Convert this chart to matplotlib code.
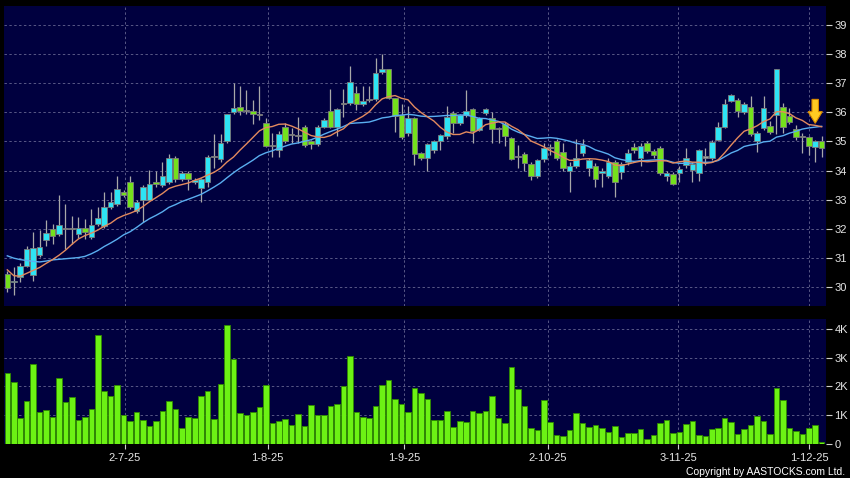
import numpy as np
import pandas as pd
import matplotlib
matplotlib.use("Agg")
import matplotlib.pyplot as plt
from matplotlib.patches import Polygon

# ---------------- data ----------------
opens = [30.45, 30.17, 30.37, 30.74, 30.42, 31.11, 31.62, 31.99, 31.83, 32.00,
         31.99, 31.83, 32.05, 31.74, 32.16, 32.10, 32.77, 32.86, 33.28, 33.60,
         32.63, 32.99, 32.99, 33.60, 33.51, 33.62, 34.45, 33.72, 33.91, 33.62,
         33.40, 33.61, 34.48, 34.40, 35.02, 36.00, 36.17, 36.06, 36.03, 35.91,
         35.63, 34.83, 34.71, 35.48, 35.22, 35.20, 35.51, 35.00, 34.91, 35.49,
         36.03, 35.50, 36.30, 36.31, 36.65, 36.29, 36.43, 36.45, 37.37, 37.47,
         36.48, 35.90, 35.28, 35.79, 34.60, 34.42, 34.71, 35.03, 35.19, 35.99,
         35.63, 35.91, 36.10, 35.40, 35.97, 35.80, 35.42, 35.59, 35.11, 34.46,
         34.57, 34.22, 33.82, 34.39, 34.78, 35.03, 34.65, 33.99, 34.17, 34.60,
         34.08, 34.17, 33.92, 33.82, 34.28, 33.95, 34.31, 34.80, 34.42, 34.94,
         34.68, 34.79, 33.80, 33.87, 33.91, 34.20, 34.02, 33.91, 34.45, 34.42,
         35.05, 35.49, 36.40, 36.43, 36.00, 36.17, 35.00, 35.47, 35.53, 35.91,
         36.17, 35.88, 35.42, 35.14, 35.14, 34.81, 35.00]
highs = [30.55, 30.71, 30.84, 31.43, 31.88, 31.97, 32.30, 32.17, 33.17, 32.86,
         32.45, 32.42, 32.35, 32.70, 32.75, 33.28, 33.28, 33.82, 33.35, 33.82,
         33.00, 33.50, 34.02, 33.98, 34.29, 34.56, 34.50, 34.00, 34.00, 33.75,
         33.75, 34.55, 35.26, 35.26, 35.95, 37.00, 36.90, 36.75, 36.43, 36.90,
         35.80, 35.28, 35.35, 35.62, 35.45, 35.85, 35.55, 35.05, 35.55, 35.80,
         36.79, 36.15, 36.79, 37.57, 36.90, 36.90, 36.90, 37.86, 38.00, 37.50,
         36.50, 36.30, 36.20, 35.85, 34.65, 34.95, 35.05, 35.25, 36.20, 36.05,
         35.95, 36.77, 36.15, 35.85, 36.15, 36.00, 35.50, 35.65, 35.15, 34.88,
         34.65, 34.30, 34.40, 34.95, 34.90, 35.10, 34.95, 34.30, 35.08, 35.10,
         34.45, 34.25, 34.10, 34.45, 34.35, 34.30, 34.75, 34.95, 34.95, 35.00,
         34.75, 34.85, 34.00, 33.95, 34.15, 34.77, 34.30, 34.75, 34.77, 35.05,
         35.65, 36.45, 36.62, 36.50, 36.35, 36.55, 35.35, 36.55, 35.70, 37.50,
         36.31, 36.14, 35.55, 35.30, 35.20, 35.05, 35.17]
lows = [29.85, 29.74, 30.19, 30.68, 30.20, 31.05, 31.40, 31.50, 31.75, 31.30,
        31.50, 31.70, 31.65, 31.65, 32.10, 32.05, 32.70, 32.80, 33.10, 32.70,
        32.55, 32.25, 32.95, 33.45, 33.45, 33.55, 33.60, 33.65, 33.34, 33.55,
        32.94, 33.45, 34.08, 34.30, 34.95, 35.95, 35.90, 35.95, 35.60, 35.74,
        34.80, 34.48, 34.46, 34.95, 34.95, 34.95, 34.80, 34.75, 34.85, 35.45,
        35.45, 35.20, 35.85, 36.25, 36.08, 36.20, 36.35, 36.40, 37.30, 36.45,
        35.34, 35.10, 35.20, 34.20, 34.35, 33.98, 34.60, 34.70, 35.10, 35.30,
        35.55, 35.85, 34.95, 35.35, 35.90, 34.94, 34.94, 34.85, 34.35, 34.08,
        34.00, 33.68, 33.75, 34.30, 34.55, 34.35, 34.00, 33.28, 34.10, 34.50,
        33.80, 33.45, 33.45, 33.75, 33.11, 33.70, 34.20, 34.60, 34.15, 34.60,
        34.45, 33.85, 33.65, 33.50, 33.60, 34.10, 33.60, 33.65, 34.20, 34.35,
        35.00, 35.45, 36.35, 35.85, 35.95, 35.20, 34.65, 35.40, 35.25, 35.25,
        35.30, 35.60, 35.05, 34.60, 34.54, 34.28, 34.48]
closes = [29.96, 30.22, 30.74, 31.30, 31.34, 31.39, 31.87, 31.76, 32.15, 31.99,
          31.99, 32.05, 31.89, 32.15, 32.37, 32.74, 32.91, 33.36, 33.16, 32.77,
          32.91, 33.45, 33.53, 33.53, 33.80, 34.45, 33.70, 33.91, 33.72, 33.67,
          33.70, 34.48, 34.48, 34.94, 35.93, 36.14, 36.04, 36.05, 35.95, 35.91,
          34.85, 34.83, 35.25, 35.02, 35.22, 35.20, 34.88, 34.91, 35.48, 35.73,
          35.49, 36.10, 36.30, 37.03, 36.29, 36.40, 36.43, 37.36, 37.47, 36.48,
          35.87, 35.16, 35.79, 34.56, 34.42, 34.90, 35.00, 35.21, 35.84, 35.63,
          35.90, 36.03, 35.35, 35.80, 36.10, 35.42, 35.42, 35.17, 34.40, 34.46,
          34.25, 33.82, 34.37, 34.79, 34.78, 34.42, 34.08, 34.16, 34.42, 34.88,
          34.37, 33.71, 34.00, 34.29, 33.60, 34.22, 34.60, 34.71, 34.86, 34.68,
          34.54, 33.91, 33.93, 33.54, 34.06, 34.45, 34.22, 34.69, 34.45, 34.99,
          35.50, 36.30, 36.58, 36.03, 36.28, 35.26, 35.28, 36.15, 35.33, 37.48,
          35.49, 35.67, 35.14, 35.14, 34.84, 35.00, 34.78]
# volume in thousands
volumes = [2.46, 2.15, 0.90, 1.49, 2.78, 1.10, 1.19, 0.95, 2.30, 1.45,
           1.63, 0.84, 0.94, 1.20, 3.80, 1.84, 1.66, 2.05, 1.02, 0.80,
           1.10, 0.83, 0.61, 0.81, 1.16, 1.49, 1.23, 0.54, 0.94, 0.90,
           1.66, 1.84, 0.87, 2.08, 4.15, 2.95, 1.08, 1.01, 1.12, 1.27,
           2.06, 0.73, 0.80, 0.87, 0.64, 1.03, 0.61, 1.35, 1.02, 0.99,
           1.31, 1.40, 2.00, 3.06, 1.11, 0.94, 0.89, 1.33, 2.06, 2.21,
           1.56, 1.39, 1.11, 1.96, 1.78, 1.56, 0.82, 0.82, 1.13, 0.57,
           0.81, 0.77, 1.15, 1.06, 1.16, 1.66, 0.89, 0.71, 2.67, 1.91,
           1.32, 0.56, 0.48, 1.53, 0.77, 0.29, 0.26, 0.49, 1.09, 0.71,
           0.58, 0.64, 0.54, 0.40, 0.61, 0.23, 0.36, 0.39, 0.50, 0.18,
           0.29, 0.73, 0.82, 0.39, 0.40, 0.70, 0.78, 0.29, 0.26, 0.53,
           0.54, 0.89, 0.76, 0.33, 0.53, 0.67, 0.96, 0.78, 0.35, 1.94,
           1.54, 0.55, 0.43, 0.33, 0.54, 0.67, 0.08]
# moving-average values visible before enough closes exist
ma10_head = [30.60, 30.40, 30.38, 30.48, 30.58, 30.68, 30.82, 30.95, 31.10]
ma20_head = [31.08, 31.00, 30.95, 30.92, 30.89, 30.87, 30.90, 30.94, 30.96, 30.98,
             31.00, 31.02, 31.06, 31.15, 31.26, 31.40, 31.52, 31.65, 31.80]
tick_labels = ["2-7-25", "1-8-25", "1-9-25", "2-10-25", "3-11-25", "1-12-25"]
tick_bars = [18.2, 40.3, 61.4, 83.6, 103.8, 124.1]
price_ticks = list(range(30, 40))
vol_ticks = [0, 1, 2, 3, 4]
vol_tick_labels = ["0", "1K", "2K", "3K", "4K"]

# ---------------- style ----------------
BG = "#00003f"
GRID = "#585886"
CYAN = "#2ee4f4"
LIME = "#74e11c"
DOJI = "#a0a0a0"
WICK = "#a8a8a8"
TXT = "#e6e6e6"
plt.rcParams["font.family"] = ["Liberation Sans", "DejaVu Sans"]

n = len(closes)
idx = np.arange(n)
o = np.array(opens); c = np.array(closes)
h = np.array(highs); l = np.array(lows)

cl = pd.Series(closes)
ma10 = cl.rolling(10).mean().to_numpy()
ma20 = cl.rolling(20).mean().to_numpy()
ma10[:len(ma10_head)] = ma10_head
ma20[:len(ma20_head)] = ma20_head

fig = plt.figure(figsize=(8.5, 4.78), dpi=100, facecolor="black")
ax = fig.add_axes([4/850, 1-306/478, 822/850, 300.5/478])
axv = fig.add_axes([4/850, 1-443.8/478, 822/850, 125/478])

xlim = (-0.51, 126.67)
for a in (ax, axv):
    a.set_facecolor(BG)
    a.set_xlim(*xlim)
    for s in a.spines.values():
        s.set_visible(False)
    a.set_xticks(tick_bars)
    a.grid(True, color=GRID, linestyle=(0, (2.5, 2.5)), linewidth=0.7)
    a.set_axisbelow(True)
    a.yaxis.tick_right()
    a.tick_params(axis="y", colors="#cfcfcf", labelcolor=TXT, labelsize=8,
                  length=4, width=0.8, pad=2)

# ---- price panel ----
ax.set_ylim(29.36, 39.66)
ax.set_yticks(price_ticks)
ax.set_yticklabels([str(t) for t in price_ticks])
ax.tick_params(axis="x", bottom=False, labelbottom=False)

ax.vlines(idx, l, h, color=WICK, linewidth=0.9, zorder=2)
diff = c - o
is_doji = np.abs(diff) < 0.02
colors = np.where(is_doji, DOJI, np.where(diff > 0, CYAN, LIME))
bottoms = np.minimum(o, c)
heights = np.maximum(np.abs(diff), 0.035)
ax.bar(idx, heights, bottom=bottoms, width=0.86, color=colors,
       edgecolor="#7c7c7c", linewidth=0.6, zorder=3)

ax.plot(idx, ma20, color="#5aaef0", linewidth=1.0, zorder=4)
ax.plot(idx, ma10, color="#e38a5e", linewidth=1.0, zorder=5)

# yellow down arrow marking the latest bar
ax_x = idx[-1] - 1.0
tip = ma10[-1] + 0.12
pts = [(ax_x - 0.5, tip + 0.82), (ax_x + 0.5, tip + 0.82),
       (ax_x + 0.5, tip + 0.40), (ax_x + 1.1, tip + 0.40),
       (ax_x, tip), (ax_x - 1.1, tip + 0.40), (ax_x - 0.5, tip + 0.40)]
ax.add_patch(Polygon(pts, closed=True, facecolor="#ffcc22",
                     edgecolor="#d88a00", linewidth=0.8, zorder=6))

# ---- volume panel ----
axv.set_ylim(0, 4.36)
axv.set_yticks(vol_ticks)
axv.set_yticklabels(vol_tick_labels)
axv.bar(idx, volumes, width=0.86, color="#6cf214", edgecolor="#2f8a00",
        linewidth=0.6, zorder=3)
axv.set_xticklabels(tick_labels)
axv.tick_params(axis="x", colors="#cfcfcf", labelcolor=TXT, labelsize=8,
                length=3.5, width=0.8, pad=3)

fig.text(845/850, 1-472/478, "Copyright by AASTOCKS.com Ltd.", color="white",
         fontsize=7.5, ha="right", va="center")

fig.savefig("out.png", dpi=100, facecolor="black")
